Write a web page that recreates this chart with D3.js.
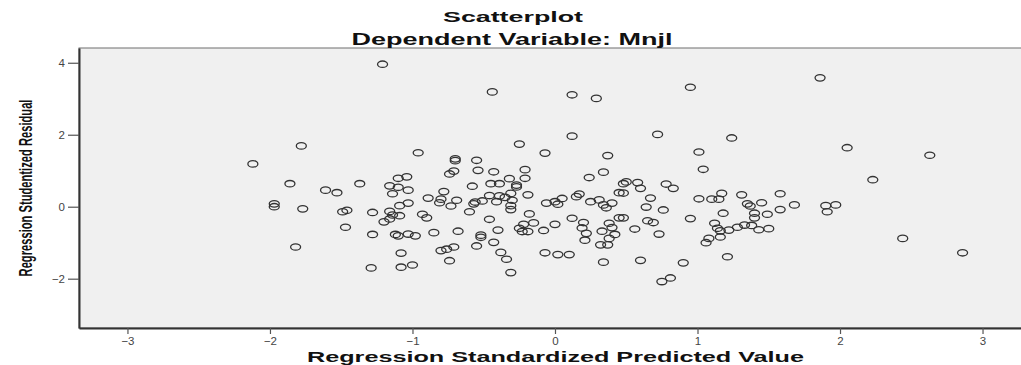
<!DOCTYPE html>
<html>
<head>
<meta charset="utf-8">
<script src="https://cdn.jsdelivr.net/npm/d3@7"></script>
<style>
  body { margin: 0; background: #fff; }
  svg { display: block; }
</style>
</head>
<body>
<div id="chart"><svg width="1021" height="365"></svg></div>
<script>
const title = "Scatterplot";
const subtitle = "Dependent Variable: Mnjl";
const xTitle = "Regression Standardized Predicted Value";
const yTitle = "Regression Studentized Residual";

const xTicks = [-3, -2, -1, 0, 1, 2, 3];
const yTicks = [-2, 0, 2, 4];

// regression standardized predicted value
const predicted = [
  -2.12,-1.78,-1.86,-1.61,-1.53,-1.97,-1.97,-1.77,-1.82,-1.49,
  -1.46,-1.47,-1.37,-1.28,-1.29,-1.28,-1.21,-0.96,-1.10,-1.04,
  -1.16,-1.10,-1.03,-1.14,-1.09,-1.03,-0.89,-1.16,-1.14,-1.09,
  -1.16,-1.20,-0.93,-0.90,-1.12,-1.10,-1.03,-0.98,-0.85,-1.08,
  -1.08,-1.00,
  -0.44,0.12,0.29,0.12,-0.25,-0.07,0.37,-0.70,-0.70,-0.55,
  -0.71,-0.74,-0.54,-0.43,-0.21,-0.32,-0.21,0.34,0.24,-0.45,
  -0.39,-0.27,-0.27,-0.58,-0.78,-0.31,-0.46,-0.39,-0.35,-0.19,
  0.17,0.15,0.45,-0.80,-0.69,-0.56,-0.51,-0.41,-0.30,-0.06,
  0.00,0.05,0.25,0.31,0.40,-0.81,-0.73,-0.57,-0.31,-0.31,
  -0.60,-0.68,-0.46,-0.40,-0.52,-0.52,-0.55,-0.43,-0.18,-0.22,
  -0.15,-0.25,-0.23,-0.19,-0.08,0.00,0.02,0.34,0.36,0.12,
  0.20,0.19,0.22,0.21,0.33,0.38,0.40,0.42,0.38,0.32,
  0.37,0.45,-0.80,-0.76,-0.71,-0.74,-0.38,-0.34,-0.31,-0.07,
  0.02,0.10,0.34,
  0.95,0.72,1.24,1.01,1.04,0.50,0.48,0.58,0.60,0.78,
  0.83,0.48,0.67,1.01,1.10,1.15,1.17,1.31,1.58,1.35,
  1.45,1.68,0.64,0.76,0.48,0.65,0.69,0.56,0.73,0.95,
  1.18,1.37,1.40,1.49,1.40,1.58,1.12,1.14,1.16,1.22,
  1.28,1.33,1.38,1.43,1.50,1.08,1.06,1.16,1.21,0.60,
  0.90,0.75,0.81,
  1.86,2.05,2.63,2.23,1.90,1.97,1.91,2.44,2.86
];

// regression studentized residual
const residual = [
  1.19,1.69,0.64,0.46,0.39,0.08,0.00,-0.06,-1.12,-0.14,
  -0.10,-0.57,0.64,-0.16,-1.70,-0.77,3.96,1.50,0.79,0.83,
  0.58,0.54,0.46,0.36,0.03,0.10,0.24,-0.13,-0.23,-0.25,
  -0.34,-0.42,-0.21,-0.31,-0.77,-0.81,-0.76,-0.81,-0.72,-1.29,
  -1.68,-1.62,
  3.19,3.11,3.01,1.96,1.74,1.49,1.42,1.33,1.28,1.29,
  0.99,0.91,1.01,0.97,1.03,0.78,0.79,0.96,0.81,0.64,
  0.64,0.60,0.55,0.57,0.42,0.37,0.31,0.30,0.26,0.33,
  0.35,0.28,0.39,0.21,0.18,0.13,0.16,0.14,0.18,0.10,
  0.14,0.23,0.14,0.19,0.10,0.11,0.02,0.08,0.03,-0.08,
  -0.14,-0.68,-0.35,-0.65,-0.79,-0.85,-1.09,-0.99,-0.20,-0.49,
  -0.45,-0.60,-0.69,-0.69,-0.66,-0.49,0.07,0.05,-0.03,-0.32,
  -0.44,-0.59,-0.74,-0.93,-0.68,-0.46,-0.58,-0.77,-0.88,-1.06,
  -1.06,-0.31,-1.22,-1.18,-1.12,-1.50,-1.27,-1.46,-1.83,-1.28,
  -1.33,-1.33,-1.54,
  3.32,2.01,1.91,1.52,1.04,0.69,0.64,0.67,0.51,0.63,
  0.51,0.38,0.24,0.22,0.21,0.21,0.37,0.33,0.36,0.08,
  0.11,0.05,-0.01,-0.09,-0.31,-0.39,-0.44,-0.62,-0.76,-0.33,
  -0.18,0.02,-0.18,-0.21,-0.31,-0.08,-0.46,-0.60,-0.67,-0.65,
  -0.57,-0.51,-0.52,-0.64,-0.61,-0.88,-1.00,-0.84,-1.39,-1.49,
  -1.56,-2.08,-1.98,
  3.58,1.64,1.43,0.75,0.03,0.05,-0.14,-0.88,-1.28
];

const points = predicted.map((p, i) => ({x: p, y: residual[i]}));

const plotLeft = 79, plotRight = 1023, plotTop = 48, plotBottom = 328;
const svg = d3.select("#chart svg");

const xScale = d3.scaleLinear().domain([-3.34, 3.284]).range([plotLeft, plotRight]);
const yScale = d3.scaleLinear().domain([-3.37, 4.41]).range([plotBottom, plotTop]);

// plot background
svg.append("rect")
    .attr("x", plotLeft).attr("y", plotTop)
    .attr("width", plotRight - plotLeft).attr("height", plotBottom - plotTop)
    .attr("fill", "#f0f0f0")
    .attr("stroke", "#6e6e6e")
    .attr("stroke-width", 1);

const xAxis = g => g
    .attr("transform", "translate(0," + plotBottom + ")")
    .call(d3.axisBottom(xScale).tickValues(xTicks).tickSizeInner(6).tickSizeOuter(0)
        .tickPadding(3).tickFormat(d3.format("d")));

const yAxis = g => g
    .attr("transform", "translate(" + plotLeft + ",0)")
    .call(d3.axisLeft(yScale).tickValues(yTicks).tickSizeInner(11).tickSizeOuter(0)
        .tickPadding(3).tickFormat(d3.format("d")));

const gx = svg.append("g").call(xAxis);
const gy = svg.append("g").call(yAxis);

[gx, gy].forEach(g => {
    g.select(".domain").attr("stroke", "#333").attr("stroke-width", 2);
    g.selectAll(".tick line").attr("stroke", "#555").attr("stroke-width", 1.2);
    g.selectAll(".tick text")
        .attr("fill", "#444")
        .attr("font-family", "Liberation Sans, Arial, sans-serif")
        .attr("font-size", 11.5);
});

// points
svg.append("g")
    .selectAll("ellipse")
    .data(points)
    .join("ellipse")
    .attr("cx", d => xScale(d.x))
    .attr("cy", d => yScale(d.y))
    .attr("rx", 5)
    .attr("ry", 3.2)
    .attr("fill", "none")
    .attr("stroke", "#333")
    .attr("stroke-width", 1.3);

// titles
svg.append("text")
    .attr("x", 513).attr("y", 21.5)
    .attr("text-anchor", "middle")
    .attr("font-family", "Liberation Sans, Arial, sans-serif")
    .attr("font-weight", "bold")
    .attr("font-size", 14)
    .attr("textLength", 140)
    .attr("lengthAdjust", "spacingAndGlyphs")
    .attr("fill", "#111")
    .text(title);

svg.append("text")
    .attr("x", 512).attr("y", 44.5)
    .attr("text-anchor", "middle")
    .attr("font-family", "Liberation Sans, Arial, sans-serif")
    .attr("font-weight", "bold")
    .attr("font-size", 16.5)
    .attr("textLength", 321)
    .attr("lengthAdjust", "spacingAndGlyphs")
    .attr("fill", "#111")
    .text(subtitle);

svg.append("text")
    .attr("x", 555.5).attr("y", 361.5)
    .attr("text-anchor", "middle")
    .attr("font-family", "Liberation Sans, Arial, sans-serif")
    .attr("font-weight", "bold")
    .attr("font-size", 14)
    .attr("textLength", 497)
    .attr("lengthAdjust", "spacingAndGlyphs")
    .attr("fill", "#111")
    .text(xTitle);

// narrow y title: squeeze along its own direction with a scale
const yLabel = svg.append("text")
    .attr("text-anchor", "middle")
    .attr("font-family", "Liberation Sans Narrow, Liberation Sans, Arial, sans-serif")
    .attr("font-weight", "bold")
    .attr("font-size", 19)
    .attr("fill", "#111")
    .text(yTitle);
const naturalLen = yLabel.node().getComputedTextLength();
yLabel.attr("transform", "translate(32,188) rotate(-90) scale(" + (177 / naturalLen) + ",1)");
</script>
</body>
</html>
